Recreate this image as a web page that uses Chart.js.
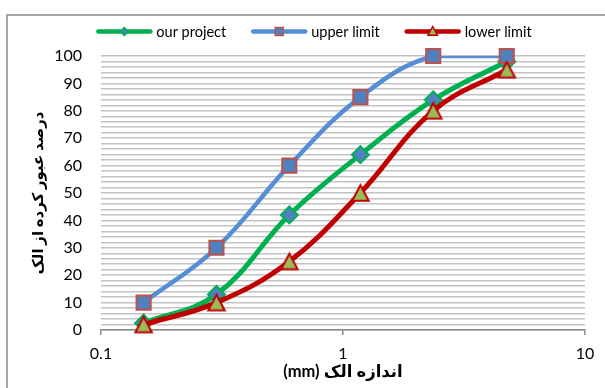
<!DOCTYPE html>
<html>
<head>
<meta charset="utf-8">
<script src="https://cdn.jsdelivr.net/npm/chart.js@4/dist/chart.umd.min.js"></script>
<style>
  html, body { margin: 0; padding: 0; background: #fff; }
  canvas { display: block; }
</style>
</head>
<body>
<canvas id="c" width="605" height="388"></canvas>
<script>
// Sieve sizes (mm) and percent passing for each gradation curve
const sieveSizes = [0.15, 0.3, 0.6, 1.18, 2.36, 4.75];
const ourProject = [2.5, 13, 42, 64, 84, 98];
const upperLimit = [10, 30, 60, 85, 100, 100];
const lowerLimit = [2, 10, 25, 50, 80, 95];

const seriesNames = ['our project', 'upper limit', 'lower limit'];
const xTickValues = [0.1, 1, 10];
const yMajorStep = 10;
const yGridStep = 2;
const xTitle = '(mm) اندازه الک';
const yTitle = 'درصد عبور کرده از الک';

const FONT = "Lato, 'DejaVu Sans', sans-serif";

// Triangle marker centred on its bounding box
function makeTriangle(w, h, fill, stroke, lw) {
  const pad = Math.ceil(lw) + 1;
  const c = document.createElement('canvas');
  c.width = Math.ceil(w + 2 * pad);
  c.height = Math.ceil(h + 2 * pad);
  const g = c.getContext('2d');
  const cx = c.width / 2, cy = c.height / 2;
  g.beginPath();
  g.moveTo(cx, cy - h / 2);
  g.lineTo(cx + w / 2, cy + h / 2);
  g.lineTo(cx - w / 2, cy + h / 2);
  g.closePath();
  g.fillStyle = fill;
  g.fill();
  g.lineWidth = lw;
  g.lineJoin = 'miter';
  g.strokeStyle = stroke;
  g.stroke();
  return c;
}

const styles = [
  { line: '#00b050', width: 5,   pointStyle: 'rectRot',  radius: 8.5, fill: '#4f81bd', border: '#00b050' },
  { line: '#558ed5', width: 4.5, pointStyle: 'rect',     radius: 10,  fill: '#4f81bd', border: '#c0504d' },
  { line: '#c00000', width: 5,   pointStyle: 'triangle', radius: 10,  fill: '#9bbb59', border: '#c00000' }
];
const triangleImage = makeTriangle(16.5, 15.5, styles[2].fill, styles[2].border, 2);

const seriesValues = [ourProject, upperLimit, lowerLimit];

function toPoints(values) {
  return sieveSizes.map((s, i) => ({ x: s, y: values[i] }));
}

// Each series: a smoothed line clipped to the plot area, then its markers on top
const datasets = [];
seriesValues.forEach((vals, i) => {
  const st = styles[i];
  const base = 6 - i * 2;
  datasets.push({
    label: seriesNames[i],
    data: toPoints(vals),
    borderColor: st.line,
    borderWidth: st.width,
    borderCapStyle: 'round',
    borderJoinStyle: 'round',
    tension: 0.4,
    pointRadius: 0,
    pointHoverRadius: 0,
    fill: false,
    clip: 0,
    order: base
  });
  datasets.push({
    label: seriesNames[i] + ' markers',
    data: toPoints(vals),
    showLine: false,
    pointStyle: st.pointStyle === 'triangle' ? triangleImage : st.pointStyle,
    pointRadius: st.radius,
    pointHoverRadius: st.radius,
    pointBackgroundColor: st.fill,
    pointBorderColor: st.border,
    pointBorderWidth: 2,
    clip: false,
    order: base - 1
  });
});

const yGridValues = [];
for (let v = 0; v <= 100; v += yGridStep) yGridValues.push(v);

// Marker shapes for the legend
function drawMarker(ctx, st, x, y, r) {
  ctx.save();
  ctx.fillStyle = st.fill;
  ctx.strokeStyle = st.border;
  ctx.lineWidth = 1.5;
  ctx.beginPath();
  if (st.pointStyle === 'rectRot') {
    ctx.moveTo(x - r, y); ctx.lineTo(x, y - r); ctx.lineTo(x + r, y); ctx.lineTo(x, y + r);
  } else if (st.pointStyle === 'rect') {
    ctx.rect(x - r, y - r, 2 * r, 2 * r);
  } else {
    ctx.moveTo(x, y - r); ctx.lineTo(x + r * 0.95, y + r * 0.75); ctx.lineTo(x - r * 0.95, y + r * 0.75);
  }
  ctx.closePath();
  ctx.fill();
  ctx.stroke();
  ctx.restore();
}

const framePlugin = {
  id: 'frame',
  beforeDraw(chart) {
    const ctx = chart.ctx;
    ctx.save();
    ctx.fillStyle = '#fff';
    ctx.fillRect(0, 0, chart.width, chart.height);
    ctx.strokeStyle = '#8a8a8a';
    ctx.lineWidth = 1.5;
    ctx.strokeRect(7, 15, 800, 600);
    ctx.restore();
  }
};

const legendPlugin = {
  id: 'lineLegend',
  afterDraw(chart) {
    const ctx = chart.ctx;
    ctx.save();
    ctx.font = '14.5px ' + FONT;
    ctx.textBaseline = 'middle';
    const lineLen = 56, gapText = 4, gapItem = 25, cy = 31.5, centerX = 314;
    const widths = seriesNames.map(n => lineLen + gapText + ctx.measureText(n).width);
    const total = widths.reduce((a, b) => a + b, 0) + gapItem * (widths.length - 1);
    let x = centerX - total / 2;
    seriesNames.forEach((name, i) => {
      const st = styles[i];
      ctx.strokeStyle = st.line;
      ctx.lineWidth = 4.5;
      ctx.lineCap = 'round';
      ctx.beginPath();
      ctx.moveTo(x + 2, cy);
      ctx.lineTo(x + lineLen - 2, cy);
      ctx.stroke();
      const mr = st.pointStyle === 'rectRot' ? 4 : (st.pointStyle === 'rect' ? 4 : 5);
      drawMarker(ctx, st, x + lineLen / 2, cy, mr);
      ctx.fillStyle = '#000';
      ctx.textAlign = 'left';
      ctx.fillText(name, x + lineLen + gapText, cy + 1);
      x += widths[i] + gapItem;
    });
    ctx.restore();
  }
};

new Chart(document.getElementById('c'), {
  type: 'line',
  data: { datasets },
  options: {
    responsive: false,
    animation: false,
    devicePixelRatio: 1,
    layout: { padding: { top: 56, right: 20, left: 0, bottom: 0 } },
    plugins: {
      legend: { display: false },
      tooltip: { enabled: false }
    },
    scales: {
      x: {
        type: 'logarithmic',
        min: 0.1,
        max: 10,
        afterBuildTicks(scale) { scale.ticks = xTickValues.map(v => ({ value: v })); },
        afterFit(scale) { scale.height = 58; },
        ticks: {
          autoSkip: false,
          maxRotation: 0,
          padding: 9,
          color: '#000',
          font: { family: FONT, size: 16 },
          callback: v => String(v)
        },
        grid: { drawOnChartArea: false, drawTicks: true, tickLength: 5, color: '#888', lineWidth: 1.5 },
        border: { display: true, color: '#888', width: 1.5 },
        title: {
          display: true,
          text: xTitle,
          color: '#000',
          font: { family: FONT, size: 16.5, weight: 'bold' },
          padding: { top: 0, bottom: 6 }
        }
      },
      y: {
        type: 'linear',
        min: 0,
        max: 100,
        afterBuildTicks(scale) { scale.ticks = yGridValues.map(v => ({ value: v })); },
        afterFit(scale) { scale.width = 101; },
        ticks: {
          autoSkip: false,
          padding: 19,
          color: '#000',
          font: { family: FONT, size: 16 },
          callback: v => (v % yMajorStep === 0 ? String(v) : '')
        },
        grid: { color: '#c3c3c3', lineWidth: 1.5, drawTicks: false },
        border: { display: false },
        title: {
          display: true,
          text: yTitle,
          color: '#000',
          font: { family: FONT, size: 15, weight: 'bold' },
          padding: { top: 29, bottom: 0 }
        }
      }
    }
  },
  plugins: [framePlugin, legendPlugin]
});
</script>
</body>
</html>
